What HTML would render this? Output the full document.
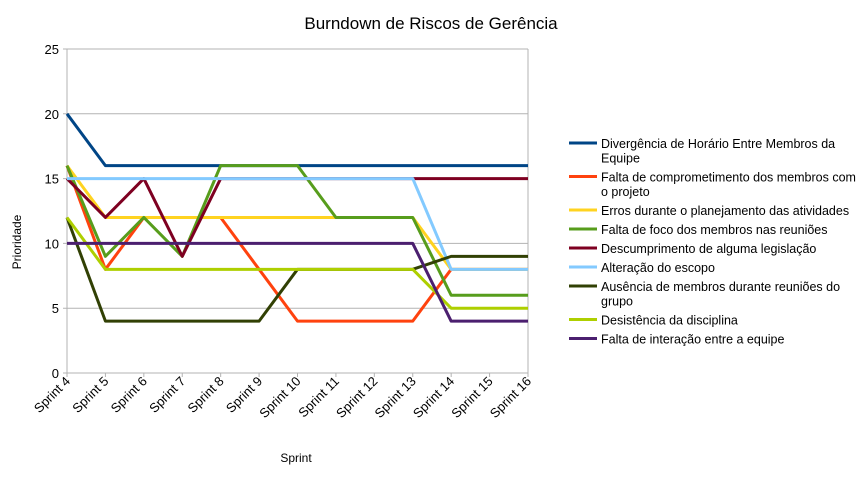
<!DOCTYPE html>
<html><head><meta charset="utf-8"><style>
body{margin:0;background:#fff;font-family:"Liberation Sans",sans-serif;}
svg text{font-family:"Liberation Sans",sans-serif;}
</style></head><body>
<svg id="chart" width="864" height="475">
<text x="431" y="29" text-anchor="middle" font-size="17" fill="#000">Burndown de Riscos de Gerência</text>
<text x="296" y="462" text-anchor="middle" font-size="12">Sprint</text>
<text transform="translate(21,242) rotate(-90)" text-anchor="middle" font-size="12">Prioridade</text>
<g id="grid"></g><g id="lines"></g><g id="legend"></g>
</svg>
<script>
const categories=["Sprint 4","Sprint 5","Sprint 6","Sprint 7","Sprint 8","Sprint 9","Sprint 10","Sprint 11","Sprint 12","Sprint 13","Sprint 14","Sprint 15","Sprint 16"];
const yTicks=[0,5,10,15,20,25];
const seriesNames=["Divergência de Horário Entre Membros da Equipe","Falta de comprometimento dos membros com o projeto","Erros durante o planejamento das atividades","Falta de foco dos membros nas reuniões","Descumprimento de alguma legislação","Alteração do escopo","Ausência de membros durante reuniões do grupo","Desistência da disciplina","Falta de interação entre a equipe"];
const seriesColors=["#004586","#ff420e","#ffd320","#579d1c","#7e0021","#83caff","#314004","#aecf00","#4b1f6f"];
const s1=[20,16,16,16,16,16,16,16,16,16,16,16,16];
const s2=[16,8,12,12,12,8,4,4,4,4,8,8,8];
const s3=[16,12,12,12,12,12,12,12,12,12,8,8,8];
const s4=[16,9,12,9,16,16,16,12,12,12,6,6,6];
const s5=[15,12,15,9,15,15,15,15,15,15,15,15,15];
const s6=[15,15,15,15,15,15,15,15,15,15,8,8,8];
const s7=[12,4,4,4,4,4,8,8,8,8,9,9,9];
const s8=[12,8,8,8,8,8,8,8,8,8,5,5,5];
const s9=[10,10,10,10,10,10,10,10,10,10,4,4,4];
const series=[s1,s2,s3,s4,s5,s6,s7,s8,s9];
const NS="http://www.w3.org/2000/svg";
const X0=67,X1=528,Y0=373,Y1=49,YMAX=25;
const xs=i=>X0+(X1-X0)*i/(categories.length-1);
const ys=v=>Y0-(Y0-Y1)*v/YMAX;
function mk(t,a,p){const e=document.createElementNS(NS,t);for(const k in a)e.setAttribute(k,a[k]);p.appendChild(e);return e;}
const grid=document.getElementById('grid');
yTicks.forEach(v=>{
 const l=mk('line',{x1:X0-4,x2:X1,y1:ys(v),y2:ys(v),stroke:'#b3b3b3','stroke-width':1},grid);
 
 
 const t=mk('text',{x:X0-8,y:ys(v)+5,'text-anchor':'end','font-size':13,fill:'#000'},grid);
 t.textContent=v;
 
 
});
mk('line',{x1:X0,x2:X0,y1:Y1,y2:Y0+4,stroke:'#b3b3b3'},grid);
mk('line',{x1:X1,x2:X1,y1:Y1,y2:Y0,stroke:'#b3b3b3'},grid);
categories.forEach((c,i)=>{
 mk('line',{x1:xs(i),x2:xs(i),y1:Y0,y2:Y0+4,stroke:'#b3b3b3'},grid);
 const t=mk('text',{transform:`translate(${xs(i)+4},${Y0+9}) rotate(-45)`,'text-anchor':'end','font-size':13,fill:'#000'},grid);
 t.textContent=c;
 
 
});
const lines=document.getElementById('lines');
series.forEach((s,k)=>{
 const p=mk('polyline',{points:s.map((v,i)=>xs(i)+','+ys(v)).join(' '),fill:'none',stroke:seriesColors[k],'stroke-width':3,'stroke-linejoin':'round'},lines);
 
 
});
const leg=document.getElementById('legend');
const lw=260;
let y=137;
seriesNames.forEach((n,k)=>{
 const words=n.split(' ');let linesTxt=[],cur='';
 const cv=document.createElement('canvas').getContext('2d');cv.font='12.5px "Liberation Sans"';
 words.forEach(w=>{const tr=cur?cur+' '+w:w;if(cv.measureText(tr).width>lw&&cur){linesTxt.push(cur);cur=w;}else cur=tr;});
 linesTxt.push(cur);
 const g=mk('g',{},leg);
 
 
 mk('line',{x1:569,x2:597,y1:y+6,y2:y+6,stroke:seriesColors[k],'stroke-width':3},g);
 linesTxt.forEach((lt,j)=>{const t=mk('text',{x:601,y:y+11+j*14.5,'font-size':12.5,fill:'#000'},g);t.textContent=lt;});
 y+=linesTxt.length*14.5+4.5;
});
</script>
</body></html>
